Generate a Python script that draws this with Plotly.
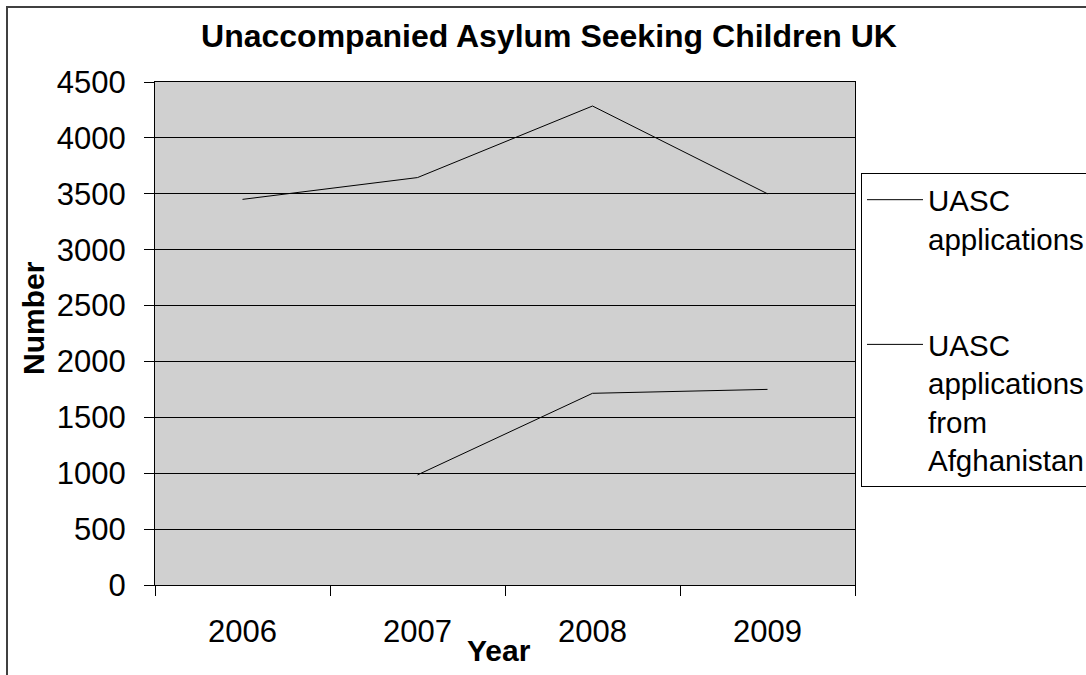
import plotly.graph_objects as go

years = ["2006", "2007", "2008", "2009"]
uasc_total = [3450, 3645, 4285, 3500]
afghan_years = ["2007", "2008", "2009"]
uasc_afghan = [985, 1715, 1750]

title_text = "Unaccompanied Asylum Seeking Children UK"
x_title = "Year"
y_title = "Number"
series_names = ["UASC<br>applications", "UASC<br>applications<br>from<br>Afghanistan"]

FONT = "Liberation Sans, Arial, sans-serif"
W, H = 1086, 675
L, R, T, B = 155, 231, 82, 90
PW, PH = W - L - R, H - T - B

def px_to_paper_x(px):
    return (px - L) / PW

def px_to_paper_y(py):
    return (H - B - py) / PH

fig = go.Figure()
fig.add_trace(go.Scatter(x=years, y=uasc_total, mode="lines", name=series_names[0],
                         line=dict(color="black", width=1), legendgroup="a"))
fig.add_trace(go.Scatter(x=afghan_years, y=uasc_afghan, mode="lines", name=series_names[1],
                         line=dict(color="black", width=1), legendgroup="b"))

fig.update_layout(
    width=W, height=H,
    margin=dict(l=L, r=R, t=T, b=B, autoexpand=False),
    paper_bgcolor="white",
    plot_bgcolor="#D0D0D0",
    font=dict(family=FONT, size=31, color="black"),
    title=dict(text="<b>" + title_text + "</b>", x=549 / W, xanchor="center",
               y=1 - 36 / H, yanchor="middle", font=dict(size=32, family=FONT, color="black")),
    showlegend=True,
    legend=dict(x=px_to_paper_x(861), y=px_to_paper_y(173), xanchor="left", yanchor="top",
                bgcolor="white", bordercolor="black", borderwidth=1,
                font=dict(size=29.5, family=FONT, color="black"),
                traceorder="grouped", tracegroupgap=65, valign="top", itemwidth=56),
    xaxis=dict(type="category", categoryorder="array", categoryarray=years,
               range=[-0.5, 3.5], autorange=False,
               tickson="boundaries", showgrid=False, ticks="outside", ticklen=10,
               tickcolor="black", tickwidth=1, showline=True, linecolor="black",
               linewidth=1, mirror=True, ticklabelstandoff=19, zeroline=False),
    yaxis=dict(range=[0, 4500], dtick=500, tick0=0, showgrid=True, gridcolor="black",
               gridwidth=1, ticks="outside", ticklen=10, tickcolor="black", tickwidth=1,
               showline=True, linecolor="black", linewidth=1, mirror=True,
               ticklabelstandoff=12, zeroline=False),
)

fig.add_annotation(text="<b>" + x_title + "</b>", xref="paper", yref="paper",
                   x=px_to_paper_x(499), y=px_to_paper_y(650), xanchor="center", yanchor="middle",
                   showarrow=False, font=dict(size=30, family=FONT, color="black"))
fig.add_annotation(text="<b>" + y_title + "</b>", xref="paper", yref="paper",
                   x=px_to_paper_x(33), y=px_to_paper_y(318), xanchor="center", yanchor="middle",
                   textangle=-90, showarrow=False, font=dict(size=30, family=FONT, color="black"))

# outer chart border (extends past the right and bottom edges)
fig.add_shape(type="rect", xref="paper", yref="paper",
              x0=px_to_paper_x(7), x1=px_to_paper_x(W + 20),
              y0=px_to_paper_y(H + 20), y1=px_to_paper_y(7),
              line=dict(color="#404040", width=2), fillcolor="rgba(0,0,0,0)", layer="below")

fig.write_html("out.html")
